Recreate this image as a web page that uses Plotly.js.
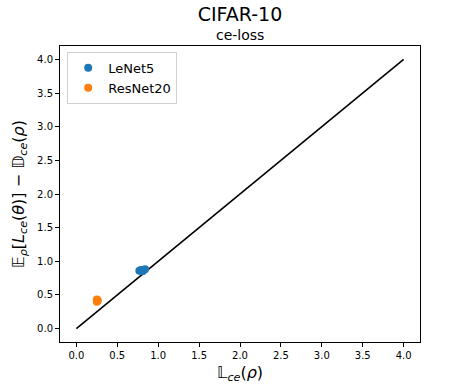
<!DOCTYPE html>
<html>
<head>
<meta charset="utf-8">
<script src="https://cdn.plot.ly/plotly-3.0.1.min.js"></script>
<style>
  html, body { margin: 0; padding: 0; background: #fff; }
  #chart { width: 467px; height: 389px; }
</style>
</head>
<body>
<div id="chart"></div>
<script>
// LeNet5 runs
const lenetX = [0.77, 0.79, 0.80, 0.82, 0.84, 0.81];
const lenetY = [0.86, 0.87, 0.86, 0.87, 0.88, 0.85];
// ResNet20 runs
const resnetX = [0.25, 0.26, 0.25, 0.26];
const resnetY = [0.40, 0.42, 0.43, 0.41];
// identity reference line
const diagX = [0, 4];
const diagY = [0, 4];

const fontFamily = 'DejaVu Sans, sans-serif';

const traces = [
  {
    x: diagX, y: diagY,
    mode: 'lines', type: 'scatter',
    line: {color: '#000000', width: 1.6},
    showlegend: false, hoverinfo: 'skip'
  },
  {
    x: lenetX, y: lenetY,
    mode: 'markers', type: 'scatter', name: 'LeNet5',
    marker: {color: '#1f77b4', size: 8}
  },
  {
    x: resnetX, y: resnetY,
    mode: 'markers', type: 'scatter', name: 'ResNet20',
    marker: {color: '#ff7f0e', size: 8}
  }
];

const axisStyle = {
  showline: true, mirror: true, linecolor: '#000', linewidth: 1,
  showgrid: false, zeroline: false,
  ticks: 'outside', ticklen: 4, tickcolor: '#000', tickwidth: 1,
  tickfont: {family: fontFamily, size: 10, color: '#000'},
  dtick: 0.5, tickformat: '.1f'
};

const layout = {
  width: 467, height: 389,
  margin: {l: 60, r: 47, t: 46, b: 47},
  paper_bgcolor: '#fff', plot_bgcolor: '#fff',
  font: {family: fontFamily, color: '#000'},
  title: {
    text: 'CIFAR-10',
    font: {family: fontFamily, size: 19, color: '#000'},
    x: 0.5, xref: 'paper', y: 0.962, yref: 'container', yanchor: 'middle'
  },
  xaxis: Object.assign({}, axisStyle, {
    range: [-0.2, 4.2],
    title: {text: '𝕃<sub><i>ce</i></sub>(<i>ρ</i>)', font: {family: fontFamily, size: 16, color: '#000'}, standoff: 6}
  }),
  yaxis: Object.assign({}, axisStyle, {
    range: [-0.2, 4.2],
    title: {text: '𝔼<sub><i>ρ</i></sub>[<i>L</i><sub><i>ce</i></sub>(<i>θ</i>)] − 𝔻<sub><i>ce</i></sub>(<i>ρ</i>)', font: {family: fontFamily, size: 16, color: '#000'}, standoff: 8}
  }),
  annotations: [{
    text: 'ce-loss', xref: 'paper', yref: 'paper', x: 0.5, y: 1.0,
    yanchor: 'bottom', showarrow: false, yshift: 1,
    font: {family: fontFamily, size: 14, color: '#000'}
  }],
  legend: {
    x: 0.02, y: 0.98, xanchor: 'left', yanchor: 'top',
    bgcolor: 'rgba(255,255,255,0.8)', bordercolor: '#d0d0d0', borderwidth: 1,
    itemwidth: 30, tracegroupgap: 4,
    font: {family: fontFamily, size: 13, color: '#000'}
  },
  showlegend: true
};

Plotly.newPlot('chart', traces, layout, {displayModeBar: false, staticPlot: true});
</script>
</body>
</html>
